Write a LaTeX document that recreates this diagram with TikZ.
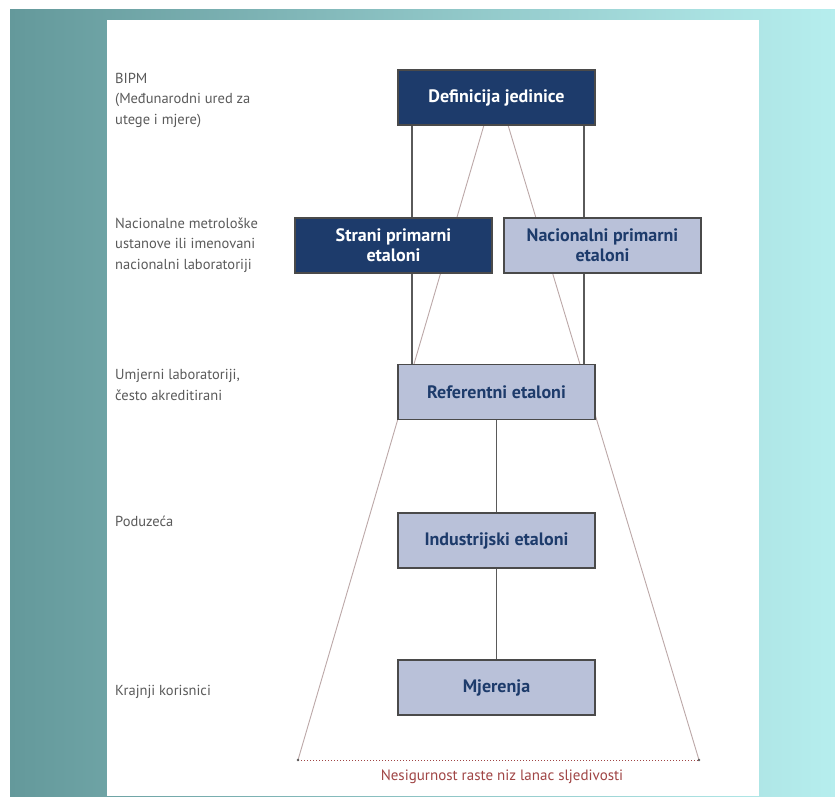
\documentclass[tikz,border=0pt]{standalone}
\usepackage{fontspec}
\setmainfont{PT Sans}
\usepackage{tikz}
\definecolor{navy700}{HTML}{1D3B6B}
\definecolor{lav200}{HTML}{B9C1D9}
\definecolor{gray700}{HTML}{4A4A4A}
\definecolor{gray600}{HTML}{5A5A5A}
\definecolor{teal500}{HTML}{64999B}
\definecolor{teal100}{HTML}{B6EEEE}
\definecolor{rose300}{HTML}{BCA8A8}
\definecolor{red700}{HTML}{A04545}
\tikzstyle{tamni}=[rectangle, draw=gray700, fill=navy700, text=white, minimum width=197pt, minimum height=55pt, inner sep=2pt, align=center, line width=1.2pt, font=\bfseries\fontsize{18}{20}\selectfont]
\tikzstyle{svijetli}=[tamni, fill=lav200, text=navy700]
\tikzstyle{razina}=[anchor=west, align=left, inner sep=0pt, text=gray600, font=\fontsize{14.5}{20.5}\selectfont]
\tikzstyle{veza}=[draw=gray600, line width=1.2pt]
\tikzstyle{krak}=[draw=rose300, line width=0.9pt]
\pgfdeclarelayer{pozadina}
\pgfdeclarelayer{linije}
\pgfsetlayers{pozadina,linije,main}

\begin{document}
\begin{tikzpicture}[x=1pt, y=-1pt]
				\useasboundingbox (0,0) rectangle (835,796);
				\begin{pgfonlayer}{pozadina}
					\fill[white] (0,0) rectangle (835,796);
					\shade[left color=teal500, right color=teal100] (10,9) rectangle (835,796);
					\fill[white] (107,20) rectangle (759,796);
				\end{pgfonlayer}
				\node[tamni] (def) at (496.5,97.5) {Definicija jedinice};
				\node[tamni] (strani) at (393.5,245.5) {Strani primarni\\etaloni};
				\node[svijetli] (nac) at (602.5,245.5) {Nacionalni primarni\\etaloni};
				\node[svijetli] (ref) at (496.5,392) {Referentni etaloni};
				\node[svijetli] (ind) at (496.5,540.5) {Industrijski etaloni};
				\node[svijetli] (mje) at (496.5,687.5) {Mjerenja};
				\node[razina] (bipm) at (115,100) {BIPM\\(Međunarodni ured za\\utege i mjere)};
				\node[razina] (nmi) at (115,245) {Nacionalne metrološke\\ustanove ili imenovani\\nacionalni laboratoriji};
				\node[razina] (umj) at (115,385) {Umjerni laboratoriji,\\često akreditirani};
				\node[razina] (pod) at (115,521) {Poduzeća};
				\node[razina] (kor) at (115,692) {Krajnji korisnici};
				\node[text=red700, font=\fontsize{15}{17}\selectfont] (nesig) at (502,777) {Nesigurnost raste niz lanac sljedivosti};
				\coordinate (lx) at (412,0);
				\coordinate (dx) at (584,0);
				\coordinate (vrhL) at (484,125);
				\coordinate (vrhR) at (508,125);
				\coordinate (dnoL) at (298,760);
				\coordinate (dnoR) at (699,760);
				\begin{pgfonlayer}{linije}
					\path[krak] (vrhL) -- (dnoL);
					\path[krak] (vrhR) -- (dnoR);
					\draw[red700, dotted, line width=1pt] (dnoL) -- (dnoR);
					\fill[gray600] (dnoL) circle (1.3pt) (dnoR) circle (1.3pt);
					\path[veza] (def.south -| lx) -- (ref.north -| lx);
					\path[veza] (def.south -| dx) -- (ref.north -| dx);
					\path[veza] (ref.south) -- (ind.north);
					\path[veza] (ind.south) -- (mje.north);
				\end{pgfonlayer}
			\end{tikzpicture}
\end{document}
